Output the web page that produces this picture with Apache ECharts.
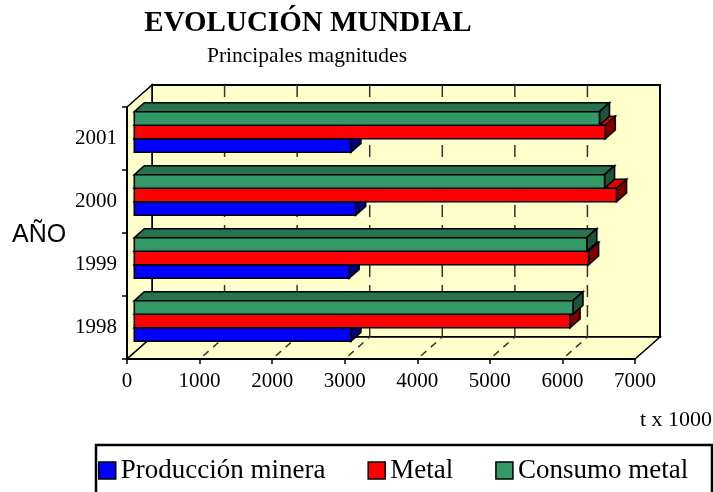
<!DOCTYPE html>
<html>
<head>
<meta charset="utf-8">
<script src="https://cdn.jsdelivr.net/npm/echarts@6/dist/echarts.min.js"></script>
<style>
  html, body { margin: 0; padding: 0; background: #fff; }
  #chart { width: 713px; height: 492px; }
</style>
</head>
<body>
<div id="chart"></div>
<script>
// datos (t x 1000)
var years = ["1998", "1999", "2000", "2001"];
var produccionMinera = [2985, 2960, 3050, 2985];
var metal = [6005, 6260, 6645, 6490];
var consumoMetal = [6045, 6235, 6480, 6410];
var gridTicks = [1000, 2000, 3000, 4000, 5000, 6000];

// efecto 3D (en px)
var DEPTH = [25, -22];
var BAR_OFF = [7.3, -6.5];
var BAR_DEPTH = [10, -9];
var BAR_FRAC = 0.215;
var WALL = "#FFFFCC";
var SERIF = "Liberation Serif";

var chart = echarts.init(document.getElementById("chart"));

function toData(values) {
  return values.map(function (v, i) { return [i, v]; });
}

function barSeries(name, values, slot, front, top, side) {
  return {
    name: name,
    type: "custom",
    z: 3,
    clip: false,
    itemStyle: { color: front },
    encode: { x: 1, y: 0 },
    data: toData(values),
    renderItem: function (params, api) {
      var cat = api.value(0);
      var p0 = api.coord([0, cat]);
      var p1 = api.coord([api.value(1), cat]);
      var h = api.size([0, 1])[1] * BAR_FRAC;
      var yb = p0[1] + 1.5 * h - slot * h + BAR_OFF[1];
      var yt = yb - h;
      var x0 = p0[0] + BAR_OFF[0];
      var x1 = p1[0] + BAR_OFF[0];
      var dx = BAR_DEPTH[0], dy = BAR_DEPTH[1];
      return {
        type: "group",
        children: [
          {
            type: "polygon",
            shape: { points: [[x0, yt], [x1, yt], [x1 + dx, yt + dy], [x0 + dx, yt + dy]] },
            style: { fill: top, stroke: "#000", lineWidth: 1.6 }
          },
          {
            type: "polygon",
            shape: { points: [[x1, yt], [x1 + dx, yt + dy], [x1 + dx, yb + dy], [x1, yb]] },
            style: { fill: side, stroke: "#000", lineWidth: 1.6 }
          },
          {
            type: "rect",
            shape: { x: x0, y: yt, width: x1 - x0, height: h },
            style: { fill: front, stroke: "#000", lineWidth: 1.6 }
          }
        ]
      };
    }
  };
}

var boxSeries = {
  type: "custom",
  z: 1,
  silent: true,
  clip: false,
  encode: { x: 1, y: 0 },
  data: [[0, 0]],
  renderItem: function (params, api) {
    var cs = params.coordSys;
    var x = cs.x, y = cs.y, w = cs.width, h = cs.height;
    var dx = DEPTH[0], dy = DEPTH[1];
    var children = [
      {
        type: "rect",
        shape: { x: x + dx, y: y + dy, width: w, height: h },
        style: { fill: WALL, stroke: "#000", lineWidth: 2 }
      },
      {
        type: "polygon",
        shape: { points: [[x, y], [x + dx, y + dy], [x + dx, y + h + dy], [x, y + h]] },
        style: { fill: WALL, stroke: "#000", lineWidth: 1.5 }
      },
      {
        type: "polygon",
        shape: { points: [[x, y + h], [x + w, y + h], [x + w + dx, y + h + dy], [x + dx, y + h + dy]] },
        style: { fill: WALL, stroke: "#000", lineWidth: 1.5 }
      }
    ];
    gridTicks.forEach(function (v) {
      var px = api.coord([v, 0])[0];
      children.push({
        type: "line",
        shape: { x1: px + dx, y1: y + dy, x2: px + dx, y2: y + h + dy },
        style: { stroke: "#333", lineWidth: 1.5, lineDash: [12, 8] }
      });
      children.push({
        type: "line",
        shape: { x1: px, y1: y + h, x2: px + dx, y2: y + h + dy },
        style: { stroke: "#333", lineWidth: 1.5, lineDash: [7, 6], lineDashOffset: -5 }
      });
    });
    return { type: "group", children: children };
  }
};

chart.setOption({
  animation: false,
  backgroundColor: "#fff",
  grid: { left: 127, right: 78, top: 107, bottom: 133 },
  xAxis: {
    type: "value",
    min: 0,
    max: 7000,
    interval: 1000,
    z: 10,
    axisLine: { show: true, lineStyle: { color: "#000", width: 2 } },
    axisTick: { show: true, length: 5, lineStyle: { color: "#000", width: 1.5 } },
    axisLabel: {
      fontFamily: SERIF, fontSize: 21, color: "#000", margin: 12,
      formatter: function (v) { return String(v); }
    },
    splitLine: { show: false }
  },
  yAxis: {
    type: "category",
    data: years,
    z: 10,
    axisLine: { show: true, lineStyle: { color: "#000", width: 2 } },
    axisTick: { show: true, length: 5, lineStyle: { color: "#000", width: 1.5 } },
    axisLabel: { fontFamily: SERIF, fontSize: 21, color: "#000", margin: 10 },
    splitLine: { show: false }
  },
  legend: {
    data: ["Producción minera", "Metal", "Consumo metal"],
    left: 98,
    top: 457,
    padding: 0,
    icon: "rect",
    itemWidth: 17,
    itemHeight: 17,
    itemGap: 42,
    itemStyle: { borderColor: "#000", borderWidth: 1.5 },
    textStyle: { fontFamily: SERIF, fontSize: 27, color: "#000" }
  },
  graphic: [
    {
      type: "text", x: 308, y: 24,
      style: { text: "EVOLUCIÓN MUNDIAL", font: "bold 29px 'Liberation Serif'", fill: "#000", textAlign: "center", textVerticalAlign: "middle" }
    },
    {
      type: "text", x: 307, y: 56,
      style: { text: "Principales magnitudes", font: "21.5px 'Liberation Serif'", fill: "#000", textAlign: "center", textVerticalAlign: "middle" }
    },
    {
      type: "text", x: 12, y: 235,
      style: { text: "AÑO", font: "25px 'Liberation Sans'", fill: "#000", textAlign: "left", textVerticalAlign: "middle" }
    },
    {
      type: "text", x: 712, y: 420,
      style: { text: "t x 1000", font: "22px 'Liberation Serif'", fill: "#000", textAlign: "right", textVerticalAlign: "middle" }
    },
    {
      type: "rect",
      shape: { x: 96, y: 445, width: 616, height: 70 },
      style: { fill: "none", stroke: "#000", lineWidth: 2.5 }
    }
  ],
  series: [
    boxSeries,
    barSeries("Producción minera", produccionMinera, 0, "#0000FF", "#0000CC", "#000080"),
    barSeries("Metal", metal, 1, "#FF0000", "#E00000", "#800000"),
    barSeries("Consumo metal", consumoMetal, 2, "#339966", "#27734D", "#1E5239")
  ]
});
</script>
</body>
</html>
